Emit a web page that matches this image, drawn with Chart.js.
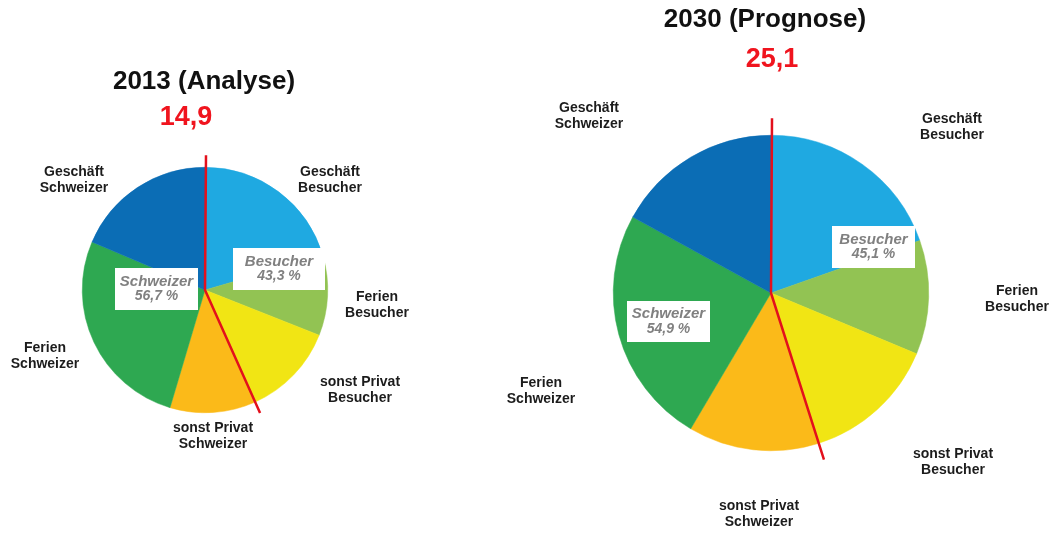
<!DOCTYPE html>
<html>
<head>
<meta charset="utf-8">
<script src="https://cdn.jsdelivr.net/npm/chart.js@4"></script>
<style>
  html, body { margin: 0; padding: 0; background: #ffffff; }
  #wrap { position: relative; width: 1054px; height: 533px; overflow: hidden; }
  canvas { position: absolute; left: 0; top: 0; }
</style>
</head>
<body>
<div id="wrap">
  <canvas id="c2013" width="1054" height="533"></canvas>
  <canvas id="c2030" width="1054" height="533"></canvas>
</div>
<script>
// ---- data ----
const categories = ['Geschäft Besucher', 'Ferien Besucher', 'sonst Privat Besucher',
                    'sonst Privat Schweizer', 'Ferien Schweizer', 'Geschäft Schweizer'];
const values2013 = [20.5, 10.5, 12.3, 11.3, 26.8, 18.6];
const values2030 = [19.6, 11.7, 13.8, 13.4, 24.5, 17.0];
const titles = ['2013 (Analyse)', '2030 (Prognose)'];
const totals = ['14,9', '25,1'];
const shares2013 = ['43,3 %', '56,7 %'];
const shares2030 = ['45,1 %', '54,9 %'];
const groupNames = ['Besucher', 'Schweizer'];
const colors = ['#1FA9E1', '#92C353', '#F1E514', '#FBBA19', '#2EA851', '#0B6DB5'];

const FONT = '"Liberation Sans", Arial, sans-serif';

// layout (positions only)
const layouts = [
  {
    padding: { left: 82, right: 726, top: 167, bottom: 120 },
    lineExt: 12,
    title: { x: 204, y: 82 },
    total: { x: 186, y: 118 },
    labels: [
      { x: 330, y: 172 }, { x: 377, y: 297 }, { x: 360, y: 382 },
      { x: 213, y: 428 }, { x: 45, y: 348 }, { x: 74, y: 172 }
    ],
    boxes: [ { x: 233, y: 248, w: 92, h: 42 }, { x: 115, y: 268, w: 83, h: 42 } ]
  },
  {
    padding: { left: 613, right: 125, top: 135, bottom: 82 },
    lineExt: 17,
    title: { x: 765, y: 20 },
    total: { x: 772, y: 60 },
    labels: [
      { x: 952, y: 119 }, { x: 1017, y: 291 }, { x: 953, y: 454 },
      { x: 759, y: 506 }, { x: 541, y: 383 }, { x: 589, y: 108 }
    ],
    boxes: [ { x: 832, y: 226, w: 83, h: 42 }, { x: 627, y: 301, w: 83, h: 41 } ]
  }
];

function splitLabel(name) {
  const i = name.lastIndexOf(' ');
  return [name.slice(0, i), name.slice(i + 1)];
}

function makeOverlay(idx, shares) {
  const L = layouts[idx];
  return {
    id: 'overlay' + idx,
    afterDatasetsDraw(chart) {
      const ctx = chart.ctx;
      const arc = chart.getDatasetMeta(0).data[0];
      const cx = arc.x, cy = arc.y, r = arc.outerRadius;
      const vals = chart.data.datasets[0].data;
      const sum = vals.reduce((a, b) => a + b, 0);
      const besucher = vals[0] + vals[1] + vals[2];

      // white label boxes
      ctx.save();
      L.boxes.forEach((b, k) => {
        ctx.fillStyle = '#ffffff';
        ctx.fillRect(b.x, b.y, b.w, b.h);
        ctx.fillStyle = '#808080';
        ctx.textAlign = 'center';
        ctx.textBaseline = 'middle';
        const mx = b.x + b.w / 2, my = b.y + b.h / 2;
        ctx.font = 'italic bold 15px ' + FONT;
        ctx.fillText(groupNames[k], mx, my - 7.5);
        ctx.font = 'italic bold 14px ' + FONT;
        ctx.fillText(shares[k], mx, my + 7.5);
      });
      ctx.restore();

      // red divider line
      const ang = -Math.PI / 2 + besucher / sum * Math.PI * 2;
      const len = r + L.lineExt;
      ctx.save();
      ctx.strokeStyle = '#E3101C';
      ctx.lineWidth = 2.5;
      ctx.lineJoin = 'round';
      ctx.beginPath();
      ctx.moveTo(cx + 1, cy - len);
      ctx.lineTo(cx, cy);
      ctx.lineTo(cx + Math.cos(ang) * len, cy + Math.sin(ang) * len);
      ctx.stroke();
      ctx.restore();

      // category labels
      ctx.save();
      ctx.fillStyle = '#1c1c1c';
      ctx.font = 'bold 14px ' + FONT;
      ctx.textAlign = 'center';
      ctx.textBaseline = 'middle';
      chart.data.labels.forEach((name, i) => {
        const p = L.labels[i];
        splitLabel(name).forEach((ln, j) => ctx.fillText(ln, p.x, p.y + j * 16));
      });
      ctx.restore();

      // title + total
      ctx.save();
      ctx.textAlign = 'center';
      ctx.textBaseline = 'middle';
      ctx.fillStyle = '#111111';
      ctx.font = 'bold 26px ' + FONT;
      ctx.fillText(titles[idx], L.title.x, L.title.y);
      ctx.fillStyle = '#F0141E';
      ctx.font = 'bold 27px ' + FONT;
      ctx.fillText(totals[idx], L.total.x, L.total.y);
      ctx.restore();
    }
  };
}

function makeChart(id, idx, values, shares) {
  return new Chart(document.getElementById(id), {
    type: 'pie',
    data: {
      labels: categories,
      datasets: [{
        data: values,
        backgroundColor: colors,
        borderColor: colors,
        borderWidth: 0.5
      }]
    },
    options: {
      responsive: false,
      animation: false,
      events: [],
      layout: { padding: layouts[idx].padding },
      plugins: { legend: { display: false }, tooltip: { enabled: false }, title: { display: false } }
    },
    plugins: [makeOverlay(idx, shares)]
  });
}

makeChart('c2013', 0, values2013, shares2013);
makeChart('c2030', 1, values2030, shares2030);
</script>
</body>
</html>
